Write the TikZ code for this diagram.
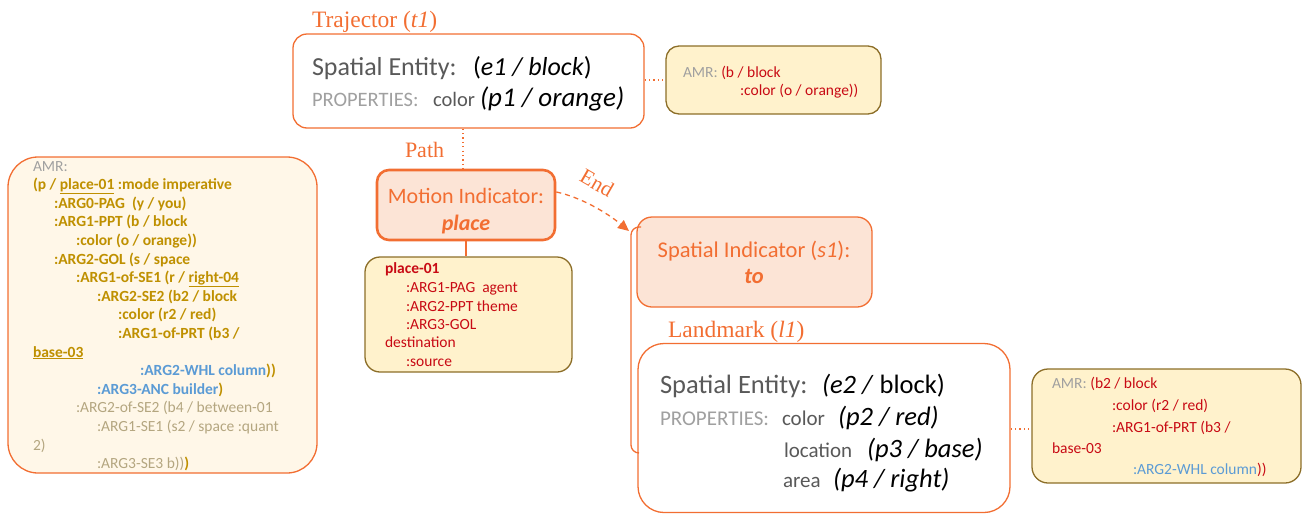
\documentclass[tikz,border=0pt]{standalone}
\usepackage{fontspec}
\setmainfont{Carlito}
\newfontfamily\lblfont{Liberation Serif}
\usetikzlibrary{arrows.meta}

\definecolor{accent}{RGB}{242,110,50}
\definecolor{peach}{RGB}{252,228,214}
\definecolor{notefill}{RGB}{255,242,204}
\definecolor{noteedge}{RGB}{140,110,40}
\definecolor{creamfill}{RGB}{255,247,232}
\definecolor{darkgray}{RGB}{89,89,89}
\definecolor{lightgray}{RGB}{160,160,160}
\definecolor{amrred}{RGB}{200,10,20}
\definecolor{amrgold}{RGB}{191,144,0}
\definecolor{amrblue}{RGB}{91,155,213}
\definecolor{amrtan}{RGB}{180,166,128}

\newcommand\fsz[1]{\fontsize{#1}{#1}\selectfont}

\begin{document}
\begin{tikzpicture}[x=1pt,y=-1pt,
  txt/.style={anchor=base west, inner sep=0pt, outer sep=0pt},
  ctxt/.style={anchor=base, inner sep=0pt, outer sep=0pt},
  entitybox/.style={draw=accent, line width=1.3pt, fill=white, inner sep=0pt},
  indicatorbox/.style={draw=accent, line width=1.3pt, fill=peach, inner sep=0pt},
  notebox/.style={draw=noteedge, line width=1.3pt, fill=notefill, inner sep=0pt, rounded corners=13pt},
  dotline/.style={draw=accent, line width=1.2pt, dash pattern=on 1.2pt off 3.2pt},
  rolelabel/.style={txt, text=accent, font=\lblfont\fsz{23.5}},
  amrtext/.style={txt, font=\fsz{15.5}},
]
\useasboundingbox (0,0) rectangle (1308,517);

% ---------- boxes ----------
\node[entitybox, rounded corners=14pt, minimum width=351, minimum height=94] (traj) at (468.5,81) {};
\node[notebox, minimum width=215, minimum height=68] (amrtop) at (773.5,80) {};
\node[indicatorbox, line width=2.6pt, rounded corners=12pt, minimum width=178, minimum height=70] (motion) at (466,205) {};
\node[notebox, rounded corners=15pt, minimum width=207, minimum height=115] (place) at (468.5,314.5) {};
\node[indicatorbox, rounded corners=15pt, minimum width=235, minimum height=90] (spind) at (754.5,262) {};
\node[entitybox, rounded corners=26pt, minimum width=372, minimum height=169] (land) at (824,428) {};
\node[notebox, rounded corners=16pt, minimum width=269, minimum height=114] (amrbr) at (1166.5,426) {};
\node[draw=accent, line width=1.3pt, fill=creamfill, rounded corners=30pt, inner sep=0pt,
      minimum width=309, minimum height=316] (amrleft) at (162.5,315) {};

% ---------- connectors ----------
\draw[dotline] (amrtop.west -| traj.east) -- (amrtop.west);
\draw[dotline] ([xshift=-3pt]motion.north |- traj.south) -- ([xshift=-3pt]motion.north);
\draw[accent, line width=2.2pt] (motion.south) -- (motion.south |- place.north);
\draw[dotline] ([yshift=-1pt]land.east) -- ([yshift=-1pt]land.east -| amrbr.west);

% bracket grouping the spatial indicator with the landmark
\coordinate (brtop) at (641,227);
\coordinate (brbot) at (639,453);
\draw[accent, line width=1.3pt, rounded corners=8pt] (brtop) -- (631,227) -- (631,453) -- (brbot);

% dashed "End" arrow
\coordinate (endtip) at (629,231);
\draw[accent, line width=1.3pt, dash pattern=on 5pt off 4pt, -{Triangle[length=11pt,width=10pt]}]
  ([yshift=13pt]motion.east) .. controls (580,197) and (606,212) .. (endtip);
\node[rolelabel, anchor=center, rotate=-30, font=\lblfont\fsz{21.5}] (endlbl) at (597,183) {End};
\node[rolelabel, font=\lblfont\fsz{22}] (pathlbl) at (405,157) {Path};

% ---------- role labels ----------
\node[rolelabel] (trajlbl) at (312,27) {Trajector (\textit{t1})};
\node[rolelabel] (landlbl) at (668,337) {Landmark (\textit{l1})};

% ---------- trajector contents ----------
\node[txt, text=darkgray, font=\fsz{26}] (se1) at (312,75) {Spatial Entity:};
\node[txt, font=\fsz{26}] (e1) at (473,75) {(\textit{e1 / block})};
\node[txt, text=lightgray, font=\fsz{20.5}] (pr1) at (312,106) {PROPERTIES:};
\node[txt, text=darkgray, font=\fsz{20.5}] (c1) at (433,106) {color};
\node[txt, font=\itshape\fsz{27}] (p1) at (480,106) {(p1 / orange)};

% ---------- AMR notes ----------
\node[amrtext] (amrtop1) at (683,77) {\textcolor{lightgray}{AMR:} \textcolor{amrred}{(b / block}};
\node[amrtext, text=amrred] (amrtop2) at (740,95) {:color (o / orange))};

\node[amrtext, text=amrred, font=\bfseries\fsz{15.5}] (pl1) at (385,273) {place-01};
\node[amrtext, text=amrred] (pl2) at (406,292) {:ARG1-PAG\ \ agent};
\node[amrtext, text=amrred] (pl3) at (406,311) {:ARG2-PPT theme};
\node[amrtext, text=amrred] (pl4) at (406,329) {:ARG3-GOL};
\node[amrtext, text=amrred] (pl5) at (385,347) {destination};
\node[amrtext, text=amrred] (pl6) at (406,366) {:source};

\node[amrtext] (br1) at (1052,388) {\textcolor{lightgray}{AMR:} \textcolor{amrred}{(b2 / block}};
\node[amrtext, text=amrred] (br2) at (1112,410) {:color (r2 / red)};
\node[amrtext, text=amrred] (br3) at (1112,432) {:ARG1-of-PRT (b3 /};
\node[amrtext, text=amrred] (br4) at (1052,453) {base-03};
\node[amrtext] (br5) at (1133,474) {\textcolor{amrblue}{:ARG2-WHL column}\textcolor{amrred}{))}};

% ---------- motion indicator ----------
\node[ctxt, text=accent, font=\fsz{22}] (mi1) at (466,203) {Motion Indicator:};
\node[ctxt, text=accent, font=\bfseries\itshape\fsz{22}] (mi2) at (466,230) {place};

% ---------- spatial indicator ----------
\node[ctxt, text=accent, font=\fsz{22.5}] (si1) at (754,257) {Spatial Indicator (\textit{s1}):};
\node[ctxt, text=accent, font=\bfseries\itshape\fsz{22.5}] (si2) at (754,283) {to};

% ---------- landmark contents ----------
\node[txt, text=darkgray, font=\fsz{26.5}] (se2) at (660,393) {Spatial Entity:};
\node[txt, font=\fsz{26.5}] (e2) at (822,393) {\textit{(e2 /} block)};
\node[txt, text=lightgray, font=\fsz{21}] (pr2) at (660,425) {PROPERTIES:};
\node[txt, text=darkgray, font=\fsz{21}] (c2) at (782,425) {color};
\node[txt, font=\itshape\fsz{26.5}] (p2) at (838,425) {(p2 / red)};
\node[txt, text=darkgray, font=\fsz{21}] (loc2) at (784,457) {location};
\node[txt, font=\itshape\fsz{26.5}] (p3) at (867,457) {(p3 / base)};
\node[txt, text=darkgray, font=\fsz{21}] (ar2) at (783,487) {area};
\node[txt, font=\itshape\fsz{26.5}] (p4) at (833,487) {(p4 / right)};

% ---------- full sentence AMR ----------
\begin{scope}[every node/.style={amrtext}]
\node[text=lightgray] (s1) at (33,171) {AMR:};
\node[text=amrgold, font=\bfseries\fsz{15.5}] (s2) at (33,189.6) {(p / \underline{place-01} :mode imperative};
\node[text=amrgold, font=\bfseries\fsz{15.5}] (s3) at (54,208.2) {:ARG0-PAG\ \ (y / you)};
\node[text=amrgold, font=\bfseries\fsz{15.5}] (s4) at (54,226.8) {:ARG1-PPT (b / block};
\node[text=amrgold, font=\bfseries\fsz{15.5}] (s5) at (76,245.4) {:color (o / orange))};
\node[text=amrgold, font=\bfseries\fsz{15.5}] (s6) at (54,264) {:ARG2-GOL (s / space};
\node[text=amrgold, font=\bfseries\fsz{15.5}] (s7) at (76,282.6) {:ARG1-of-SE1 (r / \underline{right-04}};
\node[text=amrgold, font=\bfseries\fsz{15.5}] (s8) at (97,301.2) {:ARG2-SE2 (b2 / block};
\node[text=amrgold, font=\bfseries\fsz{15.5}] (s9) at (118,319.8) {:color (r2 / red)};
\node[text=amrgold, font=\bfseries\fsz{15.5}] (s10) at (118,338.4) {:ARG1-of-PRT (b3 /};
\node[text=amrgold, font=\bfseries\fsz{15.5}] (s11) at (33,357) {\underline{base-03}};
\node[font=\bfseries\fsz{15.5}] (s12) at (140,375.6) {\textcolor{amrblue}{:ARG2-WHL column}\textcolor{amrgold}{))}};
\node[font=\bfseries\fsz{15.5}] (s13) at (97,394.2) {\textcolor{amrblue}{:ARG3-ANC builder}\textcolor{amrgold}{)}};
\node[text=amrtan] (s14) at (76,412.8) {:ARG2-of-SE2 (b4 / between-01};
\node[text=amrtan] (s15) at (97,431.4) {:ARG1-SE1 (s2 / space :quant};
\node[text=amrtan] (s16) at (33,450) {2)};
\node[text=amrtan] (s17) at (97,468.6) {:ARG3-SE3 b))\textcolor{amrgold}{\bfseries )}};
\end{scope}
\end{tikzpicture}
\end{document}
